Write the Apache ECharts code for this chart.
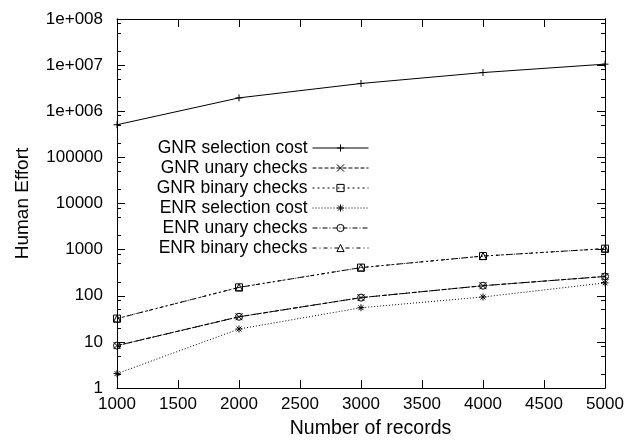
<!DOCTYPE html>
<html>
<head>
<meta charset="utf-8">
<script src="https://cdn.jsdelivr.net/npm/echarts@6/dist/echarts.min.js"></script>
<style>
	html, body { margin: 0; padding: 0; background: #fff; }
	#chart-box { width: 628px; height: 444px; }
</style>
</head>
<body>
<div id="chart-box"></div>
<script>
var records = [1000, 2000, 3000, 4000, 5000];
var gnrSelection = [510000, 1950000, 4000000, 6900000, 10500000];
var gnrUnary = [8.3, 35, 91, 165, 262];
var gnrBinary = [32, 152, 408, 725, 1050];
var enrSelection = [2.05, 19, 55, 94, 190];
var enrUnary = [8.3, 35, 91, 165, 262];
var enrBinary = [32, 152, 408, 725, 1050];

var yTickLabels = ["1", "10", "100", "1000", "10000", "100000", "1e+006", "1e+007", "1e+008"];
var yMinorTicks = [2, 5, 8, 20, 50, 80, 200, 500, 800, 2000, 5000, 8000, 20000, 50000, 80000,
	200000, 500000, 800000, 2000000, 5000000, 8000000, 20000000, 50000000, 80000000];

var font = "'Liberation Sans', Arial, Helvetica, sans-serif";

var symbols = {
	plus: "path://M0,5L10,5M5,0L5,10",
	cross: "path://M0,0L10,10M10,0L0,10",
	square: "path://M0,0L10,0L10,10L0,10Z",
	star: "path://M0,5L10,5M5,0L5,10M1.5,1.5L8.5,8.5M8.5,1.5L1.5,8.5",
	circle: "path://M10,5A5,5,0,1,1,0,5A5,5,0,1,1,10,5Z",
	triangle: "path://M5,0L10,9L0,9Z"
};

function makeSeries(name, values, symbol, dash) {
	return {
		name: name,
		type: "line",
		xAxisIndex: 0,
		yAxisIndex: 0,
		data: records.map(function (r, i) {
			return [r, values[i]];
		}),
		symbol: symbol,
		symbolSize: 7,
		showAllSymbol: true,
		itemStyle: {
			color: "none",
			borderColor: "#000",
			borderWidth: 1
		},
		lineStyle: {
			color: "#000",
			width: 1,
			type: dash
		},
		emphasis: { disabled: true }
	};
}

// major decade ticks on one axis, the 2/5/8 minor ticks on a twin axis at the same side
function yAxisOf(position, minor) {
	var labelled = position === "left" && !minor;
	return {
		type: "log",
		logBase: 10,
		min: 1,
		max: 100000000,
		splitNumber: 8,
		position: position,
		offset: 0,
		axisLine: { show: true, onZero: false, lineStyle: { color: "#000", width: 1 } },
		axisTick: {
			show: true,
			inside: true,
			length: minor ? 4 : 8,
			lineStyle: { color: "#000", width: 1 },
			customValues: minor ? yMinorTicks : undefined
		},
		axisLabel: {
			show: labelled || minor,
			margin: 14,
			color: "#000",
			fontSize: 17,
			fontFamily: font,
			customValues: minor ? yMinorTicks : undefined,
			formatter: function (v) {
				return minor ? "" : yTickLabels[Math.round(Math.log10(v))];
			}
		},
		splitLine: { show: false },
		name: labelled ? "Human Effort" : "",
		nameLocation: "middle",
		nameGap: 85,
		nameTextStyle: { color: "#000", fontSize: 19, fontFamily: font }
	};
}

function xAxisOf(position) {
	var labelled = position === "bottom";
	return {
		type: "value",
		min: 1000,
		max: 5000,
		interval: 500,
		position: position,
		axisLine: { show: true, onZero: false, lineStyle: { color: "#000", width: 1 } },
		axisTick: { show: true, inside: true, length: 8, lineStyle: { color: "#000", width: 1 } },
		axisLabel: {
			show: labelled,
			margin: 8,
			color: "#000",
			fontSize: 17,
			fontFamily: font,
			formatter: function (v) {
				return String(v);
			}
		},
		splitLine: { show: false },
		name: labelled ? "Number of records" : "",
		nameLocation: "middle",
		nameGap: 31,
		nameTextStyle: { color: "#000", fontSize: 19.5, fontFamily: font, padding: [0, 0, 0, 19] }
	};
}

var chart = echarts.init(document.getElementById("chart-box"));
var option = {
	animation: false,
	backgroundColor: "#fff",
	grid: {
		left: 117,
		right: 23,
		top: 19,
		bottom: 51,
		containLabel: false
	},
	legend: {
		orient: "vertical",
		align: "right",
		right: 259,
		top: 138,
		padding: 0,
		itemGap: 0,
		itemWidth: 56,
		itemHeight: 9,
		selectedMode: false,
		lineStyle: { width: 1 },
		itemStyle: { borderWidth: 1 },
		textStyle: {
			color: "#000",
			fontSize: 17.5,
			fontFamily: font,
			lineHeight: 20
		},
		data: ["GNR selection cost", "GNR unary checks", "GNR binary checks",
			"ENR selection cost", "ENR unary checks", "ENR binary checks"]
	},
	xAxis: [
		xAxisOf("bottom"),
		xAxisOf("top")
	],
	yAxis: [
		yAxisOf("left", false),
		yAxisOf("right", false),
		yAxisOf("left", true),
		yAxisOf("right", true)
	],
	series: [
		makeSeries("GNR selection cost", gnrSelection, symbols.plus, "solid"),
		makeSeries("GNR unary checks", gnrUnary, symbols.cross, [4, 2]),
		makeSeries("GNR binary checks", gnrBinary, symbols.square, [2, 3]),
		makeSeries("ENR selection cost", enrSelection, symbols.star, [1, 2]),
		makeSeries("ENR unary checks", enrUnary, symbols.circle, [5, 2, 1, 2]),
		makeSeries("ENR binary checks", enrBinary, symbols.triangle, [4, 3, 1, 3])
	]
};

chart.setOption(option);
</script>
</body>
</html>
